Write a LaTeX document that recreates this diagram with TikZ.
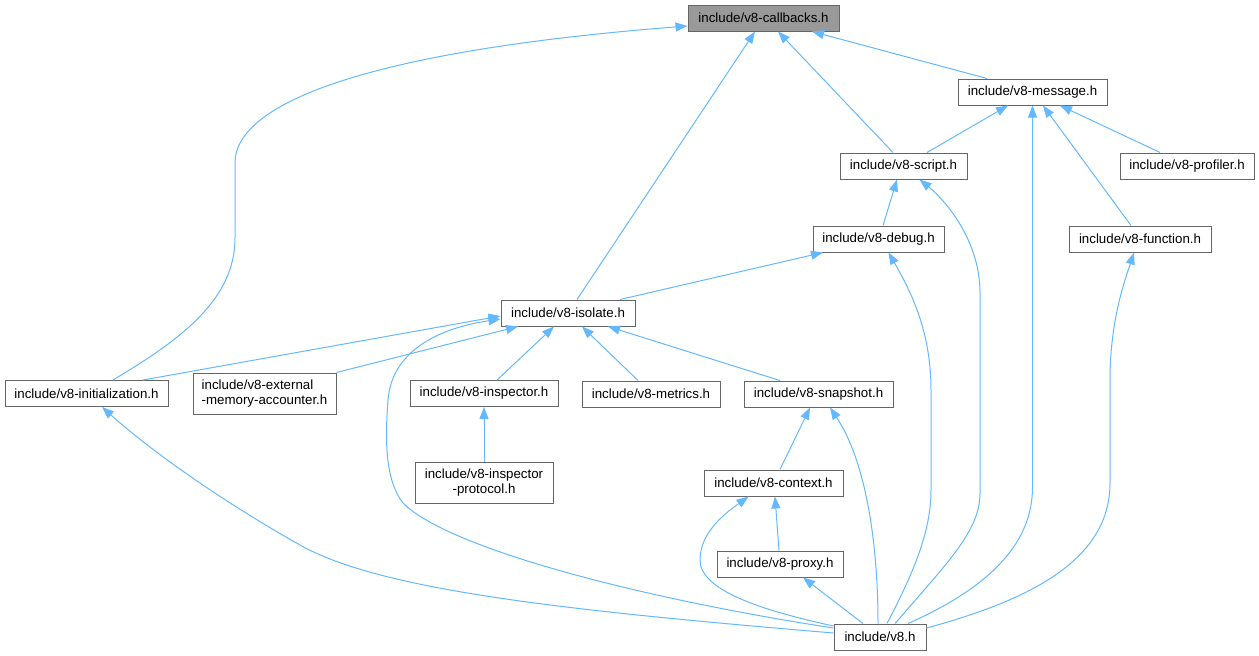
\documentclass[tikz,border=0pt]{standalone}
\usepackage{fontspec}
\setmainfont{Liberation Sans}
\usetikzlibrary{arrows.meta}
\definecolor{edgeblue}{HTML}{63B8FF}
\definecolor{boxborder}{HTML}{666666}
\definecolor{rootfill}{HTML}{999999}
\begin{document}
\begin{tikzpicture}[x=1pt,y=-1pt,
  filebox/.style={draw=boxborder,line width=1pt,fill=white,inner sep=0pt,
    minimum height=26pt,font=\fontsize{13.3}{14.7}\selectfont},
  rootbox/.style={filebox,fill=rootfill},
  dep/.style={draw=edgeblue,line width=1pt,-{Triangle[length=12pt,width=9pt]}}]
\useasboundingbox (0,0) rectangle (1259,656);
% nodes
\node[rootbox,minimum width=151pt] (cb) at (763.5,18) {include/v8-callbacks.h};
\node[filebox,minimum width=149pt] (msg) at (1032.5,92) {include/v8-message.h};
\node[filebox,minimum width=127pt] (scr) at (903.5,166) {include/v8-script.h};
\node[filebox,minimum width=134pt] (prof) at (1187,166) {include/v8-profiler.h};
\node[filebox,minimum width=131pt] (dbg) at (878.5,239) {include/v8-debug.h};
\node[filebox,minimum width=142pt] (fun) at (1140,239) {include/v8-function.h};
\node[filebox,minimum width=134pt] (iso) at (568,313) {include/v8-isolate.h};
\node[filebox,minimum width=163pt] (init) at (86.5,393.5) {include/v8-initialization.h};
\node[filebox,minimum width=143pt,minimum height=41pt,align=left] (ext) at (264.5,393.5) {include/v8-external\\-memory-accounter.h};
\node[filebox,minimum width=148pt] (insp) at (484,393.5) {include/v8-inspector.h};
\node[filebox,minimum width=138pt] (met) at (651,394) {include/v8-metrics.h};
\node[filebox,minimum width=149pt] (snap) at (818.5,394) {include/v8-snapshot.h};
\node[filebox,minimum width=138pt,minimum height=41pt,align=center] (prot) at (484,482.5) {include/v8-inspector\\-protocol.h};
\node[filebox,minimum width=139pt] (ctx) at (773.5,483) {include/v8-context.h};
\node[filebox,minimum width=126pt] (prox) at (780,564) {include/v8-proxy.h};
\node[filebox,minimum width=92pt] (v8) at (880,637) {include/v8.h};
% edges
\draw[dep] ([xshift=26.5pt]init.north) .. controls (180,340) and (235,300) .. (235,238)
  -- (235,163) .. controls (235,100) and (380,50) .. ([yshift=-8pt]cb.west);
\draw[dep] ([xshift=9pt]iso.north) -- ([xshift=-8.5pt]cb.south);
\draw[dep] ([xshift=-10.5pt]scr.north) -- ([xshift=14.5pt]cb.south);
\draw[dep] ([xshift=-45.5pt]msg.north) -- ([xshift=48.5pt]cb.south);
\draw[dep] ([xshift=23.5pt]scr.north) -- ([xshift=-24.5pt]msg.south);
\draw[dep] ([xshift=-27pt]prof.north) -- ([xshift=27.5pt]msg.south);
\draw[dep] ([xshift=-9pt]fun.north) -- ([xshift=10.5pt]msg.south);
\draw[dep] ([xshift=28pt]v8.north) .. controls (995,585) and (1032.5,540) .. (1032.5,487) -- (msg.south);
\draw[dep] ([xshift=4.5pt]dbg.north) -- ([xshift=-6.5pt]scr.south);
\draw[dep] ([xshift=15pt]v8.north) .. controls (950,560) and (980,530) .. (980,493)
  -- (980,293) .. controls (980,240) and (945,200) .. ([xshift=16pt]scr.south);
\draw[dep] ([xshift=52pt]iso.north) -- ([xshift=-55.5pt]dbg.south);
\draw[dep] ([xshift=7pt]v8.north) .. controls (915,570) and (931,530) .. (931,490)
  -- (931,390) .. controls (931,330) and (910,290) .. ([xshift=10pt]dbg.south);
\draw[dep] ([yshift=9pt]v8.east) .. controls (1030,600) and (1110,560) .. (1110,483)
  -- (1110,380) .. controls (1110,320) and (1125,280) .. ([xshift=-6pt]fun.south);
\draw[dep] ([xshift=56.5pt]init.north) -- ([yshift=-3pt]iso.west);
\draw[dep] (ext.north east) -- ([xshift=-50pt]iso.south);
\draw[dep] ([xshift=13pt]insp.north) -- ([xshift=-14pt]iso.south);
\draw[dep] ([xshift=-13pt]met.north) -- ([xshift=14pt]iso.south);
\draw[dep] ([xshift=-38.5pt]snap.north) -- ([xshift=40pt]iso.south);
\draw[dep] ([yshift=9pt]v8.west) .. controls (650,600) and (450,550) .. (403,503)
  .. controls (385,480) and (385,440) .. (388,400) .. controls (392,350) and (440,328) .. ([yshift=-6pt]iso.west);
\draw[dep] (prot.north) -- (insp.south);
\draw[dep] ([xshift=6.5pt]ctx.north) -- ([xshift=-8.5pt]snap.south);
\draw[dep] ([xshift=-2pt]v8.north) .. controls (878,540) and (865,460) .. ([xshift=11.5pt]snap.south);
\draw[dep] ([xshift=-1pt]prox.north) -- ([xshift=1.5pt]ctx.south);
\draw[dep] ([yshift=11pt]v8.west) .. controls (760,610) and (700,590) .. (700,560)
  .. controls (700,530) and (730,510) .. ([xshift=-25pt]ctx.south);
\draw[dep] ([xshift=-17pt]v8.north) -- ([xshift=23pt]prox.south);
\draw[dep] ([yshift=4pt]v8.west) .. controls (560,610) and (380,590) .. (300,545)
  .. controls (220,500) and (150,450) .. ([xshift=15.5pt]init.south);
\end{tikzpicture}
\end{document}
